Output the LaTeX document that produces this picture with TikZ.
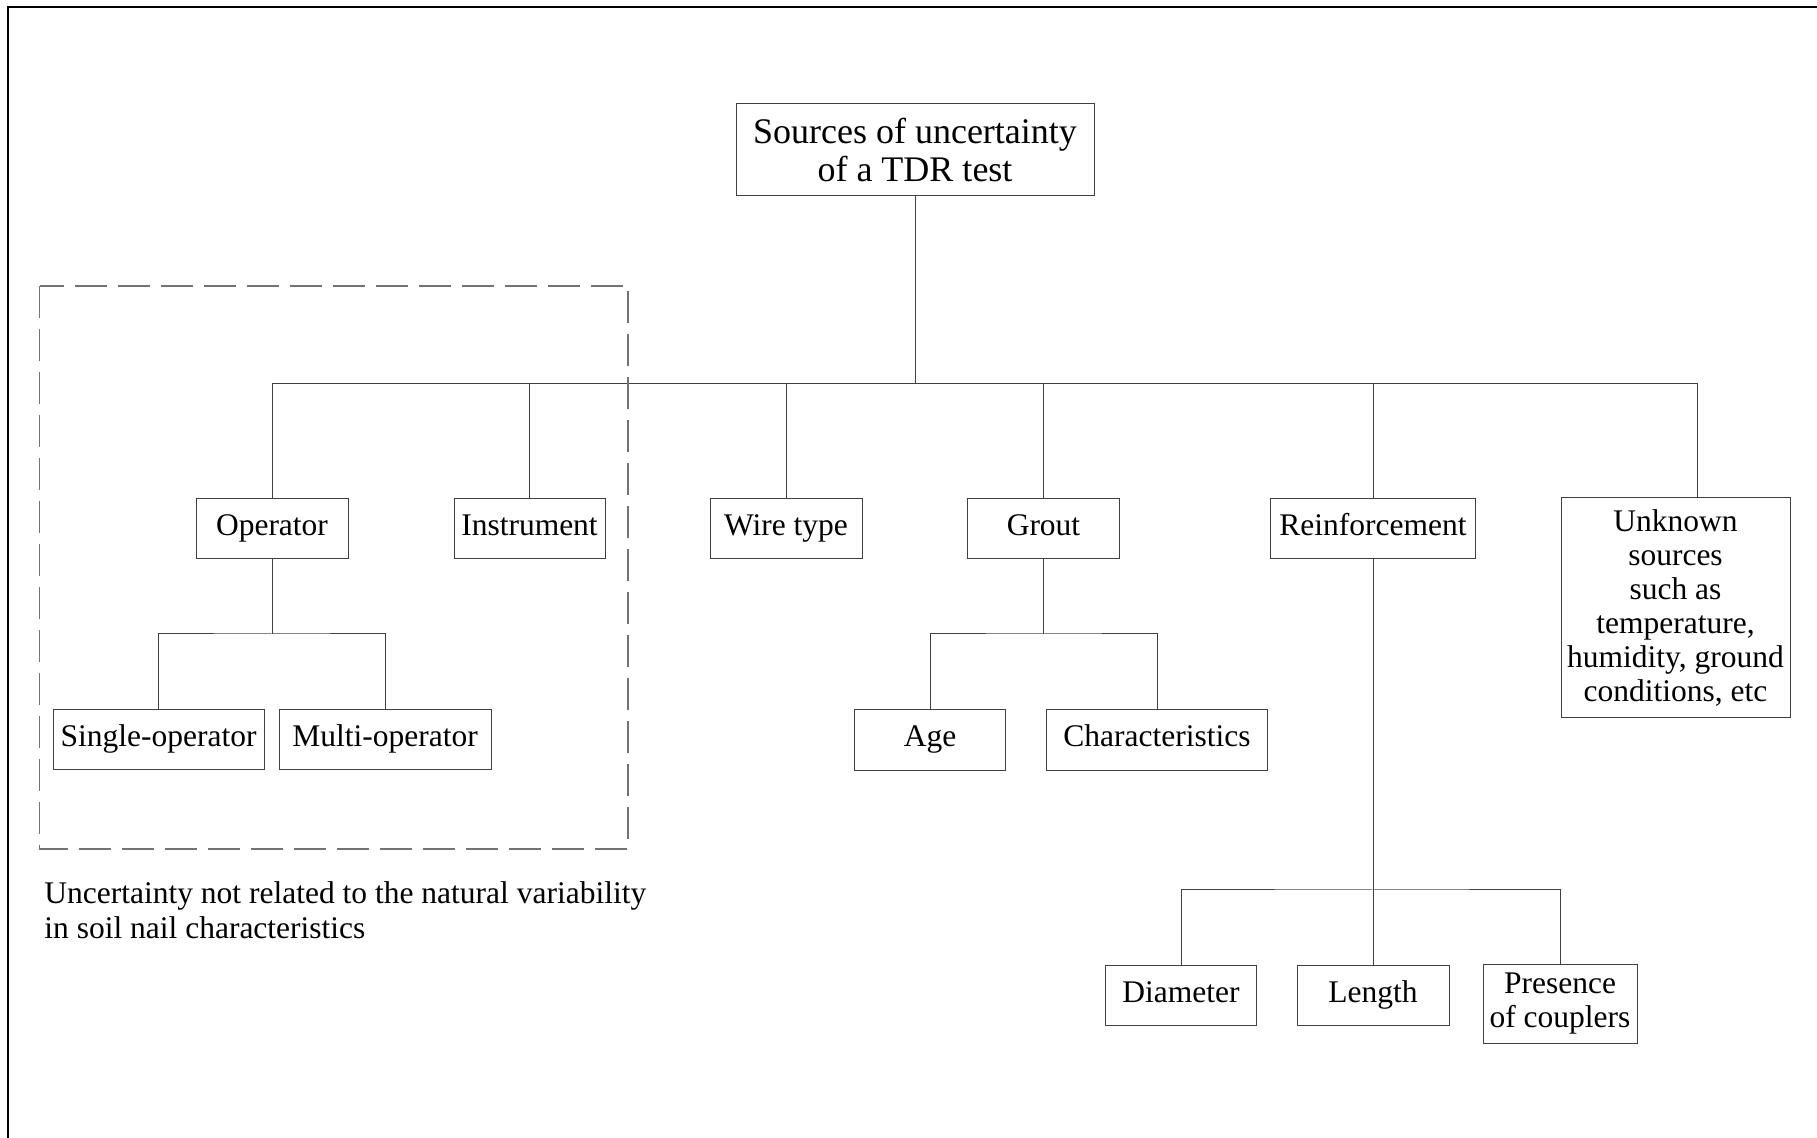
\documentclass[tikz,border=0pt]{standalone}
\usepackage{fontspec}
\setmainfont{Liberation Serif}
\usetikzlibrary{positioning}
\tikzset{
  tdBox/.style={draw=black!75, line width=0.5pt, inner sep=1pt,
    minimum height=30.25pt, font=\fontsize{15.75}{17}\selectfont, align=center},
  tdOne/.style={tdBox, text height=10.7pt, text depth=3.9pt},
  %% Tree links
  tdLink/.style={draw=black!75, line width=0.5pt},
  %% Dashed group frame + its note
  tdGroup/.style={draw=black!55, line width=0.6pt, dash pattern=on 16pt off 5.5pt},
  tdNote/.style={font=\fontsize{15.75}{17.4}\selectfont, align=left, inner sep=0pt},
}

\begin{document}
\begin{tikzpicture}[x=0.5pt, y=-0.5pt]
\useasboundingbox (0,0) rectangle (1817,1138);
\draw[line width=1.15pt] (8,1138) -- (8,7) -- (1817,7);

\node[tdBox, minimum width=179pt, minimum height=46pt,
  font=\fontsize{18}{19}\selectfont] (pRoot) at (915,150) {Sources of uncertainty\\of a TDR test};

\node[tdOne, minimum width=76pt]    (pOper)  at (272,528.5)    {Operator};
\node[tdOne, minimum width=75.5pt]  (pInstr) at (529.5,528.5)  {Instrument};
\node[tdOne, minimum width=76pt]    (pWire)  at (786,528.5)    {Wire type};
\node[tdOne, minimum width=75.75pt] (pGrout) at (1043.5,528.5) {Grout};
\node[tdOne, minimum width=102.5pt] (pReinf) at (1373,528.5)   {Reinforcement};
\node[tdBox, minimum width=114.5pt, minimum height=110pt] (pUnk) at (1675.5,608)
  {Unknown\\sources\\such as\\temperature,\\humidity, ground\\conditions, etc};

\node[tdOne, minimum width=105.5pt] (pSingle) at (158.6,739.5) {Single-operator};
\node[tdOne, minimum width=106pt]   (pMulti)  at (385,739.5)   {Multi-operator};
\node[tdOne, minimum width=75.7pt]  (pAge)    at (930,740)     {Age};
\node[tdOne, minimum width=110.85pt] (pChar)  at (1157,740)    {Characteristics};

\node[tdOne, minimum width=75.25pt] (pDiam) at (1181,995.5) {Diameter};
\node[tdOne, minimum width=76pt]    (pLen)  at (1373,995.5) {Length};
\node[tdBox, minimum width=77pt, minimum height=39pt] (pPres) at (1560,1004) {Presence\\of couplers};

\coordinate (busL)  at (272,384);
\coordinate (busR)  at (1697,384);
\coordinate (opBus) at (272,634);
\coordinate (grBus) at (1043.5,634);
\coordinate (reBus) at (1373,890);

\draw[tdLink] (pRoot.south) -- (pRoot.south |- busL);
\draw[tdLink] (busL) -- (busR) -- (busR |- pUnk.north);
\foreach \n in {pOper,pInstr,pWire,pGrout,pReinf}
  \draw[tdLink] (\n.north) -- (\n.north |- busL);
\draw[tdLink] (pOper.south) -- (opBus);
\draw[tdLink] (pSingle.north) |- (opBus) -| (pMulti.north);
\draw[tdLink] (pGrout.south) -- (grBus);
\draw[tdLink] (pAge.north) |- (grBus) -| (pChar.north);
\draw[tdLink] (pReinf.south) -- (pLen.north);
\draw[tdLink] (pDiam.north) |- (reBus) -| (pPres.north);

\draw[tdGroup] (39.5,286) rectangle (628,849);
\node[tdNote, anchor=west] (pNote) at (44,910)
  {Uncertainty not related to the natural variability\\in soil nail characteristics};

\end{tikzpicture}
\end{document}
